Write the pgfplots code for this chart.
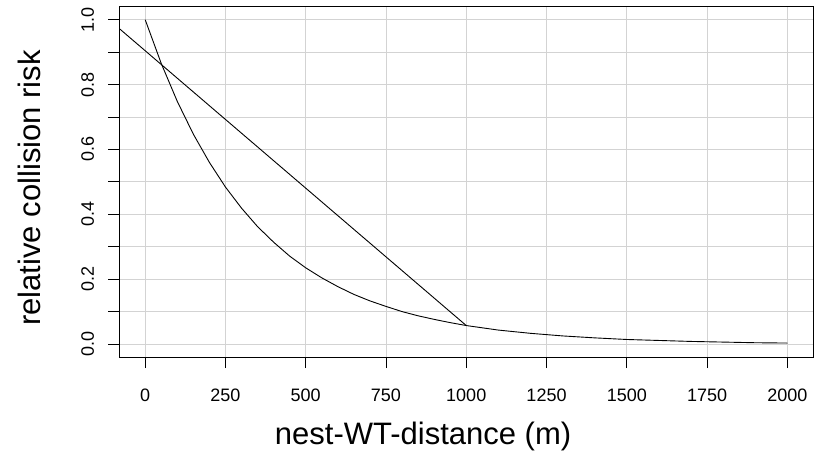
\documentclass[border=0pt]{standalone}
\usepackage{fontspec}
\setmainfont{Liberation Sans}
\usepackage{pgfplots}
\pgfplotsset{compat=1.18}
\definecolor{rgrid}{HTML}{D3D3D3}

\begin{document}
\begin{tikzpicture}
\begin{axis}[
  scale only axis, width=693.5pt, height=350.3pt,
  xmin=-80, xmax=2080, ymin=-0.04, ymax=1.04,
  axis line style={line width=0.9pt},
  tick align=outside, major tick length=11pt,
  tick style={black, line width=0.9pt},
  xtick pos=bottom, ytick pos=left,
  xtick={0,250,500,750,1000,1250,1500,1750,2000},
  xticklabels={0,250,500,750,1000,1250,1500,1750,2000},
  ytick={0,0.1,0.2,0.3,0.4,0.5,0.6,0.7,0.8,0.9,1.0},
  yticklabels={0.0,,0.2,,0.4,,0.6,,0.8,,1.0},
  grid=major, grid style={rgrid, line width=0.9pt},
  xticklabel style={font=\fontsize{18}{20}\selectfont, inner sep=0pt, anchor=base, yshift=-33.7pt},
  yticklabel style={font=\fontsize{18}{20}\selectfont, inner sep=0pt, xshift=-14.5pt, rotate=90, anchor=base},
  xlabel={nest-WT-distance (m)},
  ylabel={relative collision risk},
  xlabel style={font=\fontsize{31}{34}\selectfont, inner sep=0pt, at={(axis description cs:0.4377,-0.2492)}, anchor=base},
  ylabel style={font=\fontsize{31}{34}\selectfont, inner sep=0pt, at={(axis description cs:-0.1132,0.4825)}, anchor=base},
]
  % decay curve
  \addplot[black, line width=0.9pt] coordinates {
    (0,1.000)(50,0.865)(100,0.748)(150,0.647)(200,0.560)(250,0.484)
    (300,0.419)(350,0.362)(400,0.314)(450,0.271)(500,0.235)(550,0.204)
    (600,0.177)(650,0.153)(700,0.133)(750,0.116)(800,0.100)(850,0.087)
    (900,0.076)(950,0.066)(1000,0.057)(1100,0.043)(1200,0.033)(1300,0.025)
    (1400,0.019)(1500,0.014)(1600,0.011)(1700,0.008)(1800,0.006)(1900,0.004)
    (2000,0.003)
  };
  % straight line
  \addplot[black, line width=0.9pt] coordinates {
    (-80,0.972)(1000,0.057)
  };
\end{axis}
\pgfresetboundingbox
\useasboundingbox ([xshift=-119.5pt,yshift=-95pt]current axis.south west)
  rectangle ([xshift=8pt,yshift=6.7pt]current axis.north east);
\end{tikzpicture}
\end{document}
